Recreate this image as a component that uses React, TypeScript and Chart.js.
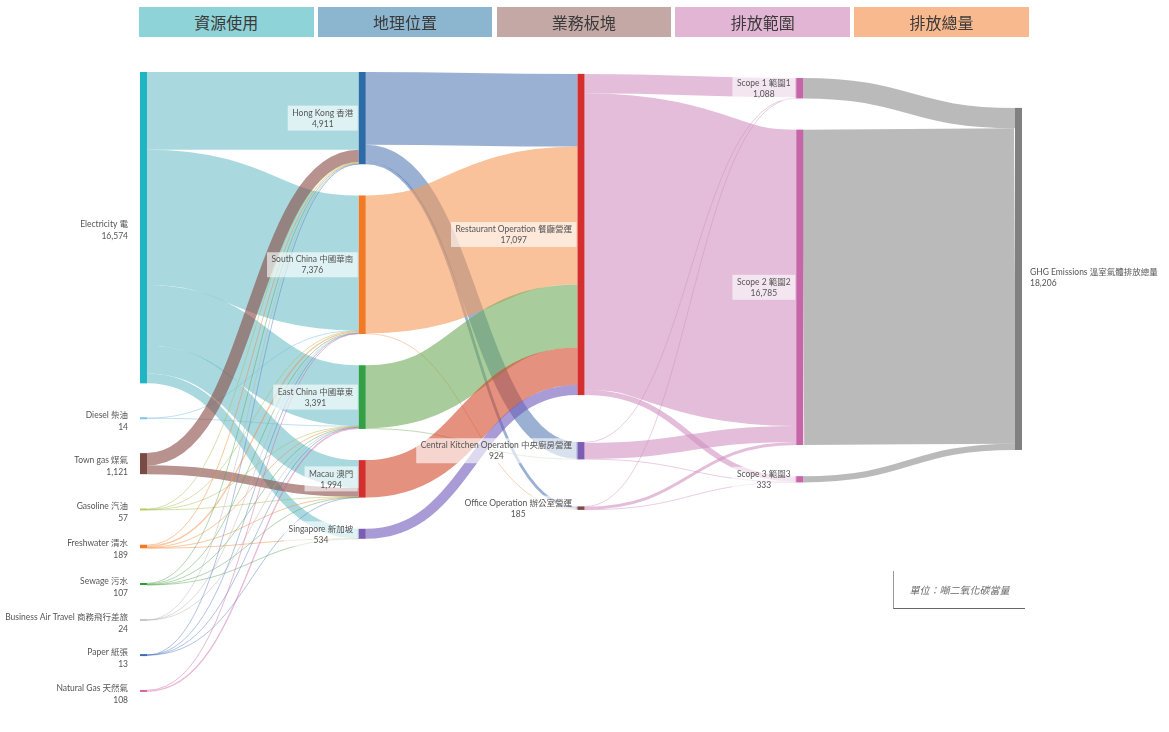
import React, { useEffect, useRef } from "react";
import { Chart, registerables } from "chart.js";

Chart.register(...registerables);

// ---------------- DATA ----------------
const HEADERS = ["資源使用", "地理位置", "業務板塊", "排放範圍", "排放總量"];
const HEADER_COLORS = ["#8ed3d8", "#8cb5cf", "#c3a8a6", "#e3b5d4", "#f8b98f"];

const NODE_KEYS = [
  "elec", "diesel", "towngas", "gasoline", "fresh", "sewage", "air", "paper", "natgas",
  "hk", "sc", "ec", "macau", "sg",
  "rest", "ck", "office",
  "s1", "s2", "s3",
  "ghg",
];
const NODE_NAMES = [
  "Electricity 電", "Diesel 柴油", "Town gas 煤氣", "Gasoline 汽油", "Freshwater 清水", "Sewage 污水",
  "Business Air Travel 商務飛行差旅", "Paper 紙張", "Natural Gas 天然氣",
  "Hong Kong 香港", "South China 中國華南", "East China 中國華東", "Macau 澳門", "Singapore 新加坡",
  "Restaurant Operation 餐廳營運", "Central Kitchen Operation 中央廚房營運", "Office Operation 辦公室營運",
  "Scope 1 範圍1", "Scope 2 範圍2", "Scope 3 範圍3",
  "GHG Emissions 溫室氣體排放總量",
];
const NODE_VALUES = [
  16574, 14, 1121, 57, 189, 107, 24, 13, 108,
  4911, 7376, 3391, 1994, 534,
  17097, 924, 185,
  1088, 16785, 333,
  18206,
];
const NODE_COLUMNS = [0, 0, 0, 0, 0, 0, 0, 0, 0, 1, 1, 1, 1, 1, 2, 2, 2, 3, 3, 3, 4];
const NODE_COLORS = [
  "#1fb5c3", "#79c7e3", "#7a4a46", "#b5cd5e", "#f27a24", "#2f9a40", "#c6c6c6", "#3f6db4", "#d068a5",
  "#2c6ba6", "#f27a24", "#34a046", "#d42f2e", "#7d5cb4",
  "#d42f2e", "#7d5cb4", "#7a4a46",
  "#c665a8", "#c665a8", "#c665a8",
  "#808080",
];
const FLOW_COLORS = [
  "#70c0ca", "#71bcde", "#874943", "#a3bc50", "#f3822f", "#50a350", "#b4b4b4", "#507ac5", "#cd61a3",
  "#587db6", "#f59958", "#70aa5a", "#d2482a", "#7058bb",
  "#d2482a", "#7058bb", "#874943",
  "#d091c0", "#d091c0", "#d091c0",
  "#8c8c8c",
];

const LINK_SOURCE = [
  "elec", "elec", "elec", "elec", "elec",
  "diesel", "diesel",
  "towngas", "towngas",
  "gasoline", "gasoline", "gasoline", "gasoline",
  "fresh", "fresh", "fresh", "fresh", "fresh",
  "sewage", "sewage", "sewage", "sewage", "sewage",
  "air", "air", "air",
  "paper", "paper", "paper", "paper",
  "natgas", "natgas",
  "hk", "hk", "hk",
  "sc", "sc",
  "ec", "ec",
  "macau",
  "sg",
  "rest", "rest", "rest",
  "ck", "ck", "ck",
  "office", "office", "office",
  "s1", "s2", "s3",
];
const LINK_TARGET = [
  "hk", "sc", "ec", "macau", "sg",
  "sc", "ec",
  "hk", "macau",
  "hk", "sc", "ec", "macau",
  "hk", "sc", "ec", "macau", "sg",
  "hk", "sc", "ec", "macau", "sg",
  "hk", "sc", "ec",
  "hk", "sc", "ec", "macau",
  "sc", "ec",
  "rest", "ck", "office",
  "rest", "office",
  "rest", "ck",
  "rest",
  "rest",
  "s1", "s2", "s3",
  "s1", "s2", "s3",
  "s1", "s2", "s3",
  "ghg", "ghg", "ghg",
];
const LINK_VALUE = [
  4143, 7189, 3243, 1477, 521,
  8, 6,
  650, 471,
  20, 20, 10, 7,
  50, 70, 35, 25, 9,
  30, 41, 20, 12, 4,
  14, 6, 4,
  4, 5, 2, 2,
  37, 71,
  3871, 890, 150,
  7341, 35,
  3357, 34,
  1994,
  534,
  1030, 15777, 290,
  45, 849, 30,
  13, 159, 13,
  1088, 16785, 333,
];

// ---------------- LAYOUT / STYLE ----------------
const W = 1169;
const H = 732;
const Y_MAX = 33000;
const COLUMN_GAP = [1849, 1660, 2500, 1660, 0];
const COLUMN_OFFSET = [0, 0, 100, 320, 0];
const LINK_COLOR_BY = ["source", "source", "target", "target"];
const NODE_W = 7;
const FLOW_ALPHA = 0.6;
const THIN_ALPHA = 0.45;
const LABEL_FONT = "8.5px Lato, 'Noto Sans CJK TC', sans-serif";
const LABEL_COLOR = "#555555";

type LinkT = { s: NodeT; t: NodeT; v: number; sy: number; ty: number };
type NodeT = {
  i: number; key: string; col: number; size: number; y0: number; y1: number;
  ins: LinkT[]; outs: LinkT[];
};

function rgba(hex: string, a: number) {
  const h = hex.replace("#", "");
  const r = parseInt(h.slice(0, 2), 16);
  const g = parseInt(h.slice(2, 4), 16);
  const b = parseInt(h.slice(4, 6), 16);
  return `rgba(${r},${g},${b},${a})`;
}

function buildLayout() {
  const nodes: NodeT[] = NODE_KEYS.map((key, i) => ({
    i, key, col: NODE_COLUMNS[i], size: 0, y0: 0, y1: 0, ins: [], outs: [],
  }));
  const byKey: Record<string, NodeT> = {};
  nodes.forEach((n) => (byKey[n.key] = n));
  const links: LinkT[] = LINK_VALUE.map((v, k) => {
    const l = { s: byKey[LINK_SOURCE[k]], t: byKey[LINK_TARGET[k]], v, sy: 0, ty: 0 };
    l.s.outs.push(l);
    l.t.ins.push(l);
    return l;
  });
  nodes.forEach((n) => {
    const a = n.ins.reduce((s, l) => s + l.v, 0);
    const b = n.outs.reduce((s, l) => s + l.v, 0);
    n.size = Math.max(a, b);
  });
  const maxCol = Math.max(...NODE_COLUMNS);
  for (let c = 0; c <= maxCol; c++) {
    const col = nodes.filter((n) => n.col === c);
    if (c === maxCol) {
      col.forEach((n) => {
        let sw = 0, sv = 0;
        n.ins.forEach((l) => { sw += l.v * (l.s.y0 + l.s.y1) / 2; sv += l.v; });
        const cy = sv ? sw / sv : n.size / 2;
        n.y0 = cy - n.size / 2;
        n.y1 = n.y0 + n.size;
      });
    } else {
      let y = COLUMN_OFFSET[c];
      col.forEach((n) => {
        n.y0 = y;
        n.y1 = y + n.size;
        y = n.y1 + COLUMN_GAP[c];
      });
    }
  }
  nodes.forEach((n) => {
    n.outs.sort((a, b) => a.t.y0 - b.t.y0);
    let y = n.y0;
    n.outs.forEach((l) => { l.sy = y; y += l.v; });
    n.ins.sort((a, b) => a.s.y0 - b.s.y0);
    y = n.y0;
    n.ins.forEach((l) => { l.ty = y; y += l.v; });
  });
  return { nodes, links };
}

const sankeyPlugin = {
  id: "sankeyDraw",
  afterDatasetsDraw(chart: any) {
    const ctx: CanvasRenderingContext2D = chart.ctx;
    const xs = chart.scales.x;
    const ys = chart.scales.y;
    const { nodes, links } = buildLayout();
    const px = (c: number) => xs.getPixelForValue(c);
    const py = (v: number) => ys.getPixelForValue(v);

    ctx.save();
    links.forEach((l) => {
      const x0 = px(l.s.col) + NODE_W;
      const x1 = px(l.t.col);
      const ya = py(l.sy + l.v / 2);
      const yb = py(l.ty + l.v / 2);
      const raw = py(l.sy + l.v) - py(l.sy);
      const w = Math.max(1, raw);
      const colorNode = LINK_COLOR_BY[l.s.col] === "target" ? l.t : l.s;
      const xm = (x0 + x1) / 2;
      ctx.beginPath();
      ctx.moveTo(x0, ya);
      ctx.bezierCurveTo(xm, ya, xm, yb, x1, yb);
      ctx.strokeStyle = rgba(FLOW_COLORS[colorNode.i], raw < 1.5 ? THIN_ALPHA : FLOW_ALPHA);
      ctx.lineWidth = w;
      ctx.lineCap = "butt";
      ctx.stroke();
    });
    nodes.forEach((n) => {
      const x = px(n.col);
      let y0 = py(n.y0);
      let y1 = py(n.y1);
      if (y1 - y0 < 2) {
        const m = (y0 + y1) / 2;
        y0 = m - 1;
        y1 = m + 1;
      }
      ctx.fillStyle = NODE_COLORS[n.i];
      ctx.fillRect(x, y0, NODE_W, y1 - y0);
    });
    ctx.font = LABEL_FONT;
    ctx.textBaseline = "middle";
    const maxCol = Math.max(...NODE_COLUMNS);
    nodes.forEach((n) => {
      const name = NODE_NAMES[n.i];
      const val = NODE_VALUES[n.i].toLocaleString("en-US");
      const cy = (py(n.y0) + py(n.y1)) / 2;
      const x = px(n.col);
      if (n.col === 0) {
        ctx.fillStyle = LABEL_COLOR;
        ctx.textAlign = "right";
        ctx.fillText(name, x - 12, cy - 3);
        ctx.fillText(val, x - 12, cy + 9);
      } else if (n.col === maxCol) {
        ctx.fillStyle = LABEL_COLOR;
        ctx.textAlign = "left";
        ctx.fillText(name, x + NODE_W + 8, cy - 7);
        ctx.fillText(val, x + NODE_W + 8, cy + 4);
      } else {
        const tw = Math.max(ctx.measureText(name).width, ctx.measureText(val).width);
        const bw = tw + 9;
        const bx = x - 1 - bw;
        ctx.fillStyle = "rgba(255,255,255,0.62)";
        ctx.fillRect(bx, cy - 12.5, bw, 25);
        ctx.fillStyle = LABEL_COLOR;
        ctx.textAlign = "center";
        ctx.fillText(name, bx + bw / 2, cy - 5);
        ctx.fillText(val, bx + bw / 2, cy + 6);
      }
    });
    ctx.restore();
  },
};

export default function App() {
  const ref = useRef<HTMLCanvasElement | null>(null);
  useEffect(() => {
    if (!ref.current) return;
    const chart = new Chart(ref.current, {
      type: "scatter",
      data: { datasets: [{ data: [], pointRadius: 0 }] },
      options: {
        responsive: false,
        animation: false,
        devicePixelRatio: 1,
        layout: { padding: { left: 140, right: 154, top: 72, bottom: 40 } },
        scales: {
          x: { type: "linear", min: 0, max: 4, display: false },
          y: { type: "linear", min: 0, max: Y_MAX, reverse: true, display: false },
        },
        plugins: { legend: { display: false }, tooltip: { enabled: false } },
      },
      plugins: [sankeyPlugin],
    } as any);
    return () => chart.destroy();
  }, []);

  return (
    <div style={{ position: "fixed", left: 0, top: 0, width: W, height: H, background: "#ffffff", overflow: "hidden" }}>
      <canvas ref={ref} width={W} height={H} style={{ position: "absolute", left: 0, top: 0, width: W, height: H }} />
      {HEADERS.map((h, i) => (
        <div
          key={h}
          style={{
            position: "absolute",
            left: 139 + i * 178.8,
            top: 7,
            width: 174.5,
            height: 30,
            background: HEADER_COLORS[i],
            display: "flex",
            alignItems: "center",
            justifyContent: "center",
            fontFamily: "'Noto Sans CJK TC', sans-serif",
            fontSize: 16,
            color: "#3a3a3a",
          }}
        >
          {h}
        </div>
      ))}
      <div
        style={{
          position: "absolute",
          left: 893,
          top: 571,
          width: 131,
          height: 37,
          borderLeft: "1px solid #9a9a9a",
          borderBottom: "1px solid #666666",
          display: "flex",
          alignItems: "center",
          justifyContent: "center",
          fontFamily: "'Noto Sans CJK TC', sans-serif",
          fontStyle: "italic",
          fontSize: 10,
          color: "#6a6a6a",
        }}
      >
        單位：噸二氧化碳當量
      </div>
    </div>
  );
}
